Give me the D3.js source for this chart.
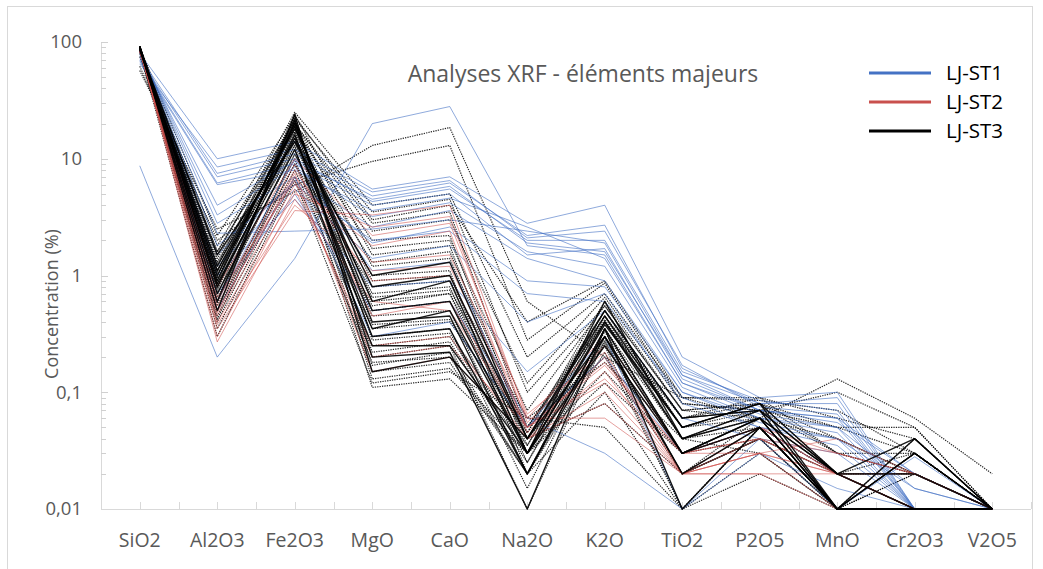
<!DOCTYPE html>
<html>
<head>
<meta charset="utf-8">
<script src="https://cdn.jsdelivr.net/npm/d3@7"></script>
<style>
  body { margin: 0; background: #fff; }
  svg { font-family: "Open Sans", "Noto Sans", sans-serif; }
</style>
</head>
<body>
<div id="chart"></div>
<script>
// categories (oxides) and tick labels
var oxides = ["SiO2", "Al2O3", "Fe2O3", "MgO", "CaO", "Na2O", "K2O", "TiO2", "P2O5", "MnO", "Cr2O3", "V2O5"];
var yTicks = [0.01, 0.1, 1, 10, 100];
var yTickLabels = ["0,01", "0,1", "1", "10", "100"];
var seriesNames = ["LJ-ST1", "LJ-ST2", "LJ-ST3"];

// LJ-ST1 samples (one row per sample, values in %)
var st1Samples = [
  [8.7, 0.2, 1.4, 20, 28, 1.8, 1.5, 0.12, 0.07, 0.06, 0.02, 0.01],
  [80, 10, 14, 5.5, 7.0, 2.8, 4.0, 0.2, 0.09, 0.1, 0.01, 0.01],
  [75, 7.5, 11, 4.8, 6.2, 2.2, 2.7, 0.16, 0.08, 0.08, 0.01, 0.01],
  [72, 7, 10, 4.3, 5.5, 2.0, 2.0, 0.15, 0.085, 0.07, 0.01, 0.01],
  [70, 6.2, 9, 4.0, 5.0, 1.5, 1.7, 0.13, 0.07, 0.06, 0.01, 0.01],
  [68, 6.0, 8, 3.6, 4.6, 2.6, 1.4, 0.12, 0.065, 0.05, 0.015, 0.01],
  [82, 3.3, 8.5, 3.2, 4.2, 1.6, 1.2, 0.11, 0.06, 0.05, 0.01, 0.01],
  [84, 2.8, 7, 2.6, 3.6, 1.4, 0.9, 0.1, 0.06, 0.045, 0.01, 0.01],
  [86, 2.3, 2.4, 2.5, 3.0, 2.4, 1.9, 0.14, 0.08, 0.09, 0.01, 0.01],
  [88, 1.8, 6, 2.0, 2.4, 0.7, 0.6, 0.09, 0.05, 0.04, 0.01, 0.01],
  [86, 1.2, 5.5, 1.4, 1.8, 0.4, 0.7, 0.08, 0.05, 0.035, 0.01, 0.01],
  [87, 1.0, 4.5, 0.8, 0.9, 0.15, 0.5, 0.06, 0.04, 0.03, 0.01, 0.01],
  [89, 0.7, 5, 0.5, 0.6, 0.06, 0.03, 0.01, 0.04, 0.01, 0.028, 0.01],
  [90, 0.5, 7, 0.3, 0.4, 0.05, 0.3, 0.01, 0.03, 0.015, 0.01, 0.01],
  [65, 8.5, 12, 5.2, 6.5, 2.1, 2.4, 0.17, 0.075, 0.065, 0.01, 0.01],
  [78, 4.0, 9.5, 4.5, 5.8, 1.9, 1.6, 0.14, 0.07, 0.055, 0.02, 0.01],
  [83, 1.5, 6.5, 1.9, 2.6, 0.9, 0.8, 0.1, 0.055, 0.04, 0.015, 0.01],
  [91, 0.6, 10, 1.1, 1.3, 0.05, 0.2, 0.03, 0.05, 0.02, 0.01, 0.01]
];

// LJ-ST2 samples
var st2Samples = [
  [88, 0.27, 4.5, 0.6, 0.5, 0.05, 0.12, 0.02, 0.03, 0.02, 0.01, 0.01],
  [85, 0.35, 3.6, 3.3, 4.0, 0.06, 0.3, 0.03, 0.05, 0.02, 0.01, 0.01],
  [86, 0.4, 5.0, 2.6, 3.2, 0.055, 0.25, 0.03, 0.04, 0.03, 0.02, 0.01],
  [84, 0.45, 6.0, 1.8, 2.4, 0.045, 0.2, 0.02, 0.03, 0.04, 0.02, 0.01],
  [87, 0.5, 7.0, 1.3, 1.5, 0.06, 0.06, 0.02, 0.02, 0.01, 0.01, 0.01],
  [89, 0.55, 8.0, 0.9, 1.0, 0.04, 0.15, 0.02, 0.03, 0.02, 0.01, 0.01],
  [83, 0.6, 9.0, 0.45, 0.6, 0.05, 0.18, 0.03, 0.05, 0.03, 0.02, 0.01],
  [90, 0.3, 5.5, 0.25, 0.3, 0.04, 0.1, 0.02, 0.04, 0.02, 0.01, 0.01],
  [86, 0.65, 6.5, 0.2, 0.25, 0.05, 0.13, 0.03, 0.03, 0.01, 0.01, 0.01],
  [82, 0.8, 10, 2.2, 2.8, 0.065, 0.22, 0.02, 0.05, 0.02, 0.02, 0.01],
  [88, 0.38, 4.0, 1.1, 1.2, 0.05, 0.17, 0.03, 0.04, 0.02, 0.01, 0.01],
  [85, 0.48, 7.5, 0.15, 0.2, 0.04, 0.08, 0.02, 0.02, 0.02, 0.01, 0.01]
];

// LJ-ST3 samples (solid)
var st3Samples = [
  [92, 0.9, 22, 0.2, 0.22, 0.01, 0.35, 0.03, 0.06, 0.01, 0.04, 0.01],
  [90, 1.0, 20, 0.5, 0.6, 0.03, 0.4, 0.04, 0.07, 0.01, 0.03, 0.01],
  [88, 1.2, 18, 0.8, 1.0, 0.04, 0.45, 0.05, 0.08, 0.02, 0.04, 0.01],
  [91, 0.8, 16, 0.3, 0.35, 0.02, 0.3, 0.02, 0.05, 0.01, 0.03, 0.01],
  [89, 1.5, 14, 1.0, 1.3, 0.04, 0.5, 0.06, 0.07, 0.02, 0.01, 0.01],
  [87, 0.7, 12, 0.25, 0.25, 0.03, 0.25, 0.03, 0.06, 0.01, 0.01, 0.01],
  [90, 0.6, 21, 0.4, 0.45, 0.02, 0.35, 0.01, 0.05, 0.01, 0.01, 0.01],
  [86, 1.1, 19, 0.6, 0.9, 0.03, 0.6, 0.04, 0.06, 0.02, 0.02, 0.01],
  [92, 0.5, 24, 0.15, 0.2, 0.04, 0.3, 0.03, 0.05, 0.01, 0.01, 0.01],
  [88, 0.85, 15, 0.35, 0.5, 0.03, 0.38, 0.05, 0.08, 0.01, 0.01, 0.01]
];

// LJ-ST3 samples (dotted)
var st3DottedSamples = [
  [57, 2.5, 5.2, 13, 18.5, 0.6, 0.2, 0.09, 0.06, 0.13, 0.06, 0.02],
  [62, 2.0, 6.0, 9.5, 13, 0.28, 0.86, 0.08, 0.07, 0.1, 0.05, 0.01],
  [88, 1.5, 25, 4.0, 5.0, 0.2, 0.7, 0.09, 0.09, 0.06, 0.04, 0.01],
  [90, 1.2, 22, 3.5, 4.5, 0.1, 0.55, 0.07, 0.08, 0.05, 0.03, 0.01],
  [85, 1.0, 20, 2.8, 3.5, 0.05, 0.5, 0.06, 0.08, 0.04, 0.02, 0.01],
  [87, 0.9, 18, 2.0, 2.2, 0.04, 0.4, 0.05, 0.07, 0.03, 0.02, 0.01],
  [91, 0.8, 24, 1.5, 1.8, 0.03, 0.45, 0.04, 0.06, 0.02, 0.01, 0.01],
  [89, 0.7, 15, 1.0, 1.1, 0.02, 0.35, 0.03, 0.05, 0.01, 0.03, 0.01],
  [86, 0.6, 13, 0.7, 0.8, 0.03, 0.3, 0.02, 0.06, 0.01, 0.02, 0.01],
  [92, 0.5, 11, 0.5, 0.6, 0.04, 0.25, 0.01, 0.05, 0.02, 0.01, 0.01],
  [84, 0.45, 9, 0.35, 0.4, 0.05, 0.2, 0.02, 0.04, 0.01, 0.01, 0.01],
  [88, 0.4, 8, 0.25, 0.3, 0.03, 0.15, 0.03, 0.05, 0.02, 0.01, 0.01],
  [90, 0.35, 7, 0.18, 0.2, 0.02, 0.1, 0.01, 0.03, 0.01, 0.01, 0.01],
  [82, 0.3, 6.5, 0.12, 0.15, 0.06, 0.05, 0.01, 0.02, 0.01, 0.01, 0.01],
  [87, 1.8, 21, 1.2, 1.4, 0.045, 0.6, 0.07, 0.08, 0.03, 0.03, 0.01],
  [89, 1.3, 19, 0.9, 1.0, 0.035, 0.5, 0.06, 0.07, 0.02, 0.02, 0.01],
  [85, 1.1, 17, 0.6, 0.7, 0.025, 0.4, 0.05, 0.06, 0.01, 0.04, 0.01],
  [91, 0.95, 16, 0.45, 0.5, 0.02, 0.35, 0.04, 0.05, 0.01, 0.03, 0.01],
  [86, 0.75, 14, 0.3, 0.35, 0.015, 0.3, 0.03, 0.06, 0.02, 0.02, 0.01],
  [88, 0.65, 12, 0.2, 0.25, 0.01, 0.28, 0.02, 0.04, 0.01, 0.01, 0.01],
  [83, 0.55, 10, 0.15, 0.18, 0.02, 0.22, 0.01, 0.05, 0.01, 0.01, 0.01],
  [90, 2.2, 23, 3.0, 4.0, 0.4, 0.9, 0.09, 0.085, 0.07, 0.03, 0.01],
  [84, 1.6, 20, 2.4, 3.0, 0.12, 0.65, 0.08, 0.07, 0.05, 0.05, 0.01],
  [88, 1.4, 18, 1.7, 2.0, 0.07, 0.55, 0.07, 0.06, 0.04, 0.02, 0.01],
  [92, 1.05, 15, 1.3, 1.6, 0.05, 0.45, 0.06, 0.09, 0.03, 0.02, 0.01],
  [75, 0.85, 13, 0.11, 0.13, 0.03, 0.12, 0.03, 0.04, 0.02, 0.01, 0.01],
  [80, 0.5, 9, 0.8, 0.9, 0.06, 0.18, 0.04, 0.03, 0.01, 0.01, 0.01],
  [86, 0.42, 11, 0.55, 0.7, 0.04, 0.08, 0.02, 0.04, 0.02, 0.01, 0.01],
  [89, 1.25, 23, 0.28, 0.32, 0.035, 0.42, 0.04, 0.07, 0.01, 0.02, 0.01],
  [87, 0.95, 19, 0.22, 0.27, 0.025, 0.33, 0.03, 0.06, 0.01, 0.01, 0.01],
  [90, 1.6, 21, 0.38, 0.42, 0.045, 0.5, 0.05, 0.08, 0.02, 0.03, 0.01],
  [85, 0.78, 17, 0.13, 0.16, 0.03, 0.27, 0.02, 0.05, 0.01, 0.01, 0.01],
  [91, 1.1, 14, 0.65, 0.75, 0.05, 0.4, 0.06, 0.07, 0.02, 0.02, 0.01],
  [88, 0.58, 20, 0.17, 0.22, 0.02, 0.26, 0.02, 0.04, 0.01, 0.01, 0.01]
];

// dimensions
var W = 1043, H = 569;
var plot = { left: 101, right: 1031, top: 42, bottom: 509 };

var svg = d3.select("#chart")
  .append("svg")
  .attr("width", W)
  .attr("height", H);

// chart border
svg.append("rect")
  .attr("x", 7.5).attr("y", 6.5)
  .attr("width", 1025).attr("height", 570)
  .attr("fill", "#fff")
  .attr("stroke", "#d9d9d9");

var x = d3.scaleBand()
  .domain(oxides)
  .range([plot.left, plot.right]);

var y = d3.scaleLog()
  .domain([0.01, 100])
  .range([plot.bottom, plot.top]);

// y axis line and ticks (ticks pointing into the plot)
svg.append("line")
  .attr("x1", plot.left + 0.5).attr("x2", plot.left + 0.5)
  .attr("y1", plot.top).attr("y2", plot.bottom)
  .attr("stroke", "#d9d9d9");

var minorTicks = y.ticks().filter(function (d) { return yTicks.indexOf(d) < 0; });
svg.selectAll(".yminor")
  .data(minorTicks)
  .enter().append("line")
  .attr("x1", plot.left).attr("x2", plot.left + 5)
  .attr("y1", function (d) { return Math.round(y(d)) + 0.5; })
  .attr("y2", function (d) { return Math.round(y(d)) + 0.5; })
  .attr("stroke", "#d0d0d0");

svg.selectAll(".ymajor")
  .data(yTicks)
  .enter().append("line")
  .attr("x1", plot.left).attr("x2", plot.left + 7)
  .attr("y1", function (d) { return Math.round(y(d)) + 0.5; })
  .attr("y2", function (d) { return Math.round(y(d)) + 0.5; })
  .attr("stroke", "#d0d0d0");

svg.selectAll(".ylabel")
  .data(yTicks)
  .enter().append("text")
  .attr("x", 82)
  .attr("y", function (d) { return y(d); })
  .attr("dy", "0.35em")
  .attr("text-anchor", "end")
  .attr("font-size", 18.5)
  .attr("fill", "#595959")
  .text(function (d, i) { return yTickLabels[i]; });

// x axis line and ticks
svg.append("line")
  .attr("x1", plot.left).attr("x2", plot.right)
  .attr("y1", plot.bottom + 0.5).attr("y2", plot.bottom + 0.5)
  .attr("stroke", "#d9d9d9");

var xTickPos = [];
oxides.forEach(function (o) {
  xTickPos.push(x(o) + x.bandwidth() / 2);
  xTickPos.push(x(o) + x.bandwidth());
});
svg.selectAll(".xtick")
  .data(xTickPos)
  .enter().append("line")
  .attr("x1", function (d) { return Math.round(d) + 0.5; })
  .attr("x2", function (d) { return Math.round(d) + 0.5; })
  .attr("y1", plot.bottom - 7).attr("y2", plot.bottom)
  .attr("stroke", "#d9d9d9");

svg.selectAll(".xlabel")
  .data(oxides)
  .enter().append("text")
  .attr("x", function (d) { return x(d) + x.bandwidth() / 2; })
  .attr("y", 547)
  .attr("text-anchor", "middle")
  .attr("font-size", 19.5)
  .attr("fill", "#595959")
  .text(function (d) { return d; });

// y axis title
svg.append("text")
  .attr("transform", "translate(58,304) rotate(-90)")
  .attr("text-anchor", "middle")
  .attr("font-size", 18)
  .attr("fill", "#595959")
  .text("Concentration (%)");

// lines
var line = d3.line()
  .x(function (d, i) { return x(oxides[i]) + x.bandwidth() / 2; })
  .y(function (d) { return y(d); });

function drawGroup(data, color, width, opacity, dash) {
  svg.append("g")
    .selectAll("path")
    .data(data)
    .enter().append("path")
    .attr("d", line)
    .attr("fill", "none")
    .attr("stroke", color)
    .attr("stroke-width", width)
    .attr("stroke-opacity", opacity)
    .attr("stroke-linejoin", "round")
    .attr("stroke-dasharray", dash);
}

drawGroup(st3DottedSamples, "#000", 1.2, 0.85, "1.3,1.1");
drawGroup(st1Samples, "#4472c4", 1, 0.6, null);
drawGroup(st2Samples, "#d0504d", 1, 0.55, null);
drawGroup(st3Samples, "#000", 1.4, 0.9, null);

// title
svg.append("text")
  .attr("x", 583)
  .attr("y", 82)
  .attr("text-anchor", "middle")
  .attr("font-size", 23)
  .attr("fill", "#595959")
  .text("Analyses XRF - éléments majeurs");

// legend
var legendColors = ["#4472c4", "#c9504d", "#000"];
var legend = svg.append("g");
seriesNames.forEach(function (name, i) {
  var ly = 73 + i * 29;
  legend.append("line")
    .attr("x1", 869).attr("x2", 931)
    .attr("y1", ly).attr("y2", ly)
    .attr("stroke", legendColors[i])
    .attr("stroke-width", 3);
  legend.append("text")
    .attr("x", 946)
    .attr("y", ly)
    .attr("dy", "0.35em")
    .attr("font-size", 20.5)
    .attr("fill", "#000")
    .text(name);
});
</script>
</body>
</html>
